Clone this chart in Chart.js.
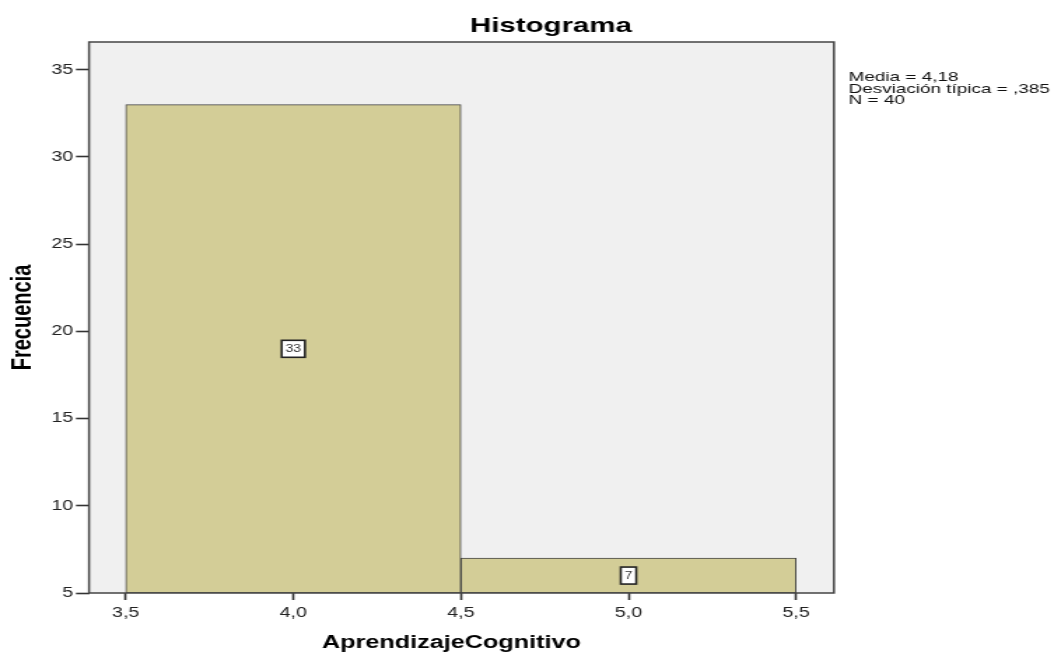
<!DOCTYPE html>
<html>
<head>
<meta charset="utf-8">
<script src="https://cdn.jsdelivr.net/npm/chart.js@4.4.1/dist/chart.umd.min.js"></script>
<style>
  html, body { margin: 0; padding: 0; background: #ffffff; }
  canvas { display: block; }
</style>
</head>
<body>
<canvas id="c" width="753" height="654" style="width:1054px;height:654px;"></canvas>
<script>
// ---- data ----
const binCenters = [4.0, 5.0];
const frequencies = [33, 7];
const xTicks = [3.5, 4.0, 4.5, 5.0, 5.5];
const yTicks = [5, 10, 15, 20, 25, 30, 35];
const xRange = [3.3905, 5.613];
const yRange = [5, 36.59];
const chartTitle = 'Histograma';
const xTitle = 'AprendizajeCognitivo';
const yTitle = 'Frecuencia';
const statsLines = ['Media = 4,18', 'Desviación típica = ,385', 'N = 40'];

const FONT = "'Liberation Sans', Arial, sans-serif";

const barData = binCenters.map((c, i) => ({ x: c, y: [yRange[0], frequencies[i]] }));

const framePlugin = {
  id: 'frame',
  beforeDraw(chart) {
    const { ctx, chartArea: a } = chart;
    ctx.save();
    ctx.fillStyle = '#ffffff';
    ctx.fillRect(0, 0, chart.width, chart.height);
    ctx.fillStyle = '#f0f0f0';
    ctx.fillRect(a.left, a.top, a.right - a.left, a.bottom - a.top);
    ctx.restore();
  },
  afterDatasetsDraw(chart) {
    const { ctx, chartArea: a } = chart;
    ctx.save();
    // value labels
    const meta = chart.getDatasetMeta(0);
    ctx.font = '10px ' + FONT;
    ctx.textAlign = 'center';
    ctx.textBaseline = 'middle';
    meta.data.forEach((el, i) => {
      const txt = String(frequencies[i]);
      const cx = el.x;
      const cy = (el.y + el.base) / 2;
      const w = ctx.measureText(txt).width + 5.5;
      const h = 17;
      ctx.fillStyle = '#ffffff';
      ctx.fillRect(cx - w / 2, cy - h / 2, w, h);
      ctx.strokeStyle = '#222222';
      ctx.lineWidth = 1.6;
      ctx.strokeRect(cx - w / 2, cy - h / 2, w, h);
      ctx.fillStyle = '#333333';
      ctx.fillText(txt, cx, cy + 0.5);
    });
    // frame
    ctx.strokeStyle = '#444444';
    ctx.lineWidth = 1.5;
    ctx.strokeRect(a.left, a.top, a.right - a.left, a.bottom - a.top);
    // title
    ctx.fillStyle = '#000000';
    ctx.font = 'bold 21px ' + FONT;
    ctx.textAlign = 'center';
    ctx.textBaseline = 'middle';
    ctx.fillText(chartTitle, 393.6, 26);
    // x axis title
    ctx.font = 'bold 18px ' + FONT;
    ctx.fillText(xTitle, 322.5, 643);
    // stats
    ctx.font = '13.5px ' + FONT;
    ctx.textAlign = 'left';
    ctx.textBaseline = 'top';
    ctx.fillStyle = '#111111';
    statsLines.forEach((l, i) => ctx.fillText(l, a.right + 10.5, 71 + i * 11.3));
    ctx.restore();
  }
};

new Chart(document.getElementById('c'), {
  type: 'bar',
  data: {
    datasets: [{
      data: barData,
      xAxisID: 'xb',
      backgroundColor: '#d3cd97',
      borderColor: '#444444',
      borderWidth: 1,
      borderSkipped: false,
      barPercentage: 1,
      categoryPercentage: 1
    }]
  },
  options: {
    responsive: false,
    devicePixelRatio: 1,
    animation: false,
    layout: { padding: { left: 0, right: 157.2, top: 42, bottom: 0 } },
    plugins: { legend: { display: false }, tooltip: { enabled: false }, title: { display: false } },
    scales: {
      x: {
        type: 'linear',
        position: 'bottom',
        min: xRange[0],
        max: xRange[1],
        offset: false,
        afterBuildTicks: s => { s.ticks = xTicks.map(v => ({ value: v })); },
        afterFit: s => { s.height = 61; },
        border: { display: false },
        grid: { display: true, offset: false, drawOnChartArea: false, drawTicks: true, tickLength: 7, tickColor: '#333333', tickWidth: 1.6 },
        ticks: {
          padding: 5,
          color: '#222222',
          font: { family: FONT, size: 14 },
          maxRotation: 0,
          autoSkip: false,
          callback: v => Number(v).toFixed(1).replace('.', ',')
        },
        title: { display: false, text: xTitle }
      },
      xb: {
        type: 'linear',
        display: false,
        min: xRange[0],
        max: xRange[1],
        offset: false,
        afterBuildTicks: s => { s.ticks = []; }
      },
      y: {
        type: 'linear',
        position: 'left',
        min: yRange[0],
        max: yRange[1],
        afterBuildTicks: s => { s.ticks = yTicks.map(v => ({ value: v })); },
        afterFit: s => { s.width = 63.6; },
        border: { display: false },
        grid: { display: true, offset: false, drawOnChartArea: false, drawTicks: true, tickLength: 9.3, tickColor: '#333333', tickWidth: 1.6 },
        ticks: {
          padding: 2,
          color: '#222222',
          font: { family: FONT, size: 14 },
          autoSkip: false,
          callback: v => String(v)
        },
        title: {
          display: true,
          text: yTitle,
          color: '#000000',
          font: { family: FONT, size: 20, weight: 'bold', lineHeight: 1.2 },
          padding: { top: 4, bottom: 0 }
        }
      }
    }
  },
  plugins: [framePlugin]
});
</script>
</body>
</html>
